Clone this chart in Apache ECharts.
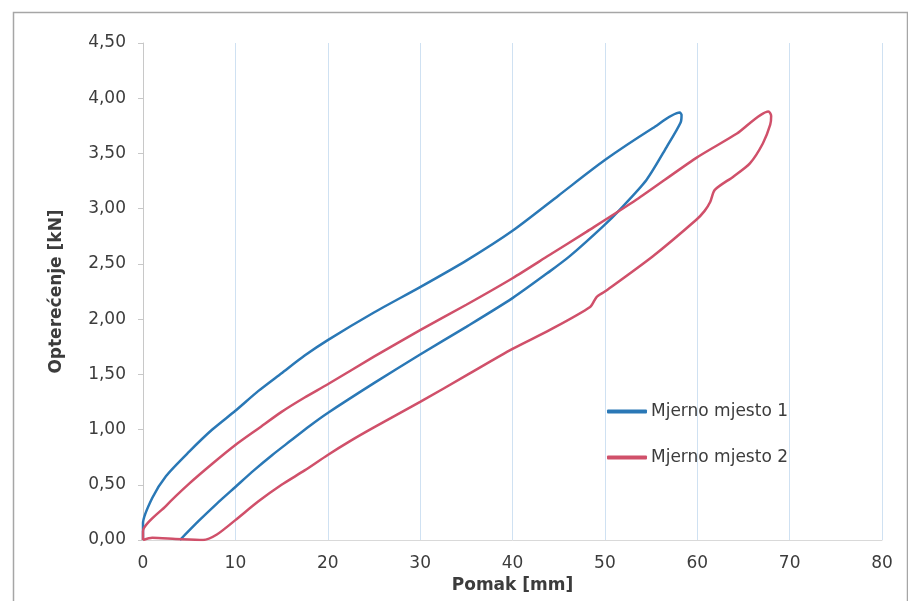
<!DOCTYPE html>
<html>
<head>
<meta charset="utf-8">
<script src="https://cdn.jsdelivr.net/npm/echarts@6/dist/echarts.min.js"></script>
<style>
html,body{margin:0;padding:0;background:#fff;}
#c{width:908px;height:601px;}
</style>
</head>
<body>
<div id="c"></div>
<script>
// Series names
var seriesNames = ['Mjerno mjesto 1', 'Mjerno mjesto 2'];
// Axis titles
var xTitle = 'Pomak [mm]';
var yTitle = 'Opterećenje [kN]';
// Hysteresis loop, measuring point 1: [displacement mm, load kN]
var loop1 = [
  [0,0],[0,0.15],[1,0.38],[2.5,0.58],[5,0.80],[7.5,1.00],[10,1.17],[12.5,1.35],[15,1.51],
  [17.5,1.67],[20,1.81],[25,2.06],[30,2.29],[35,2.53],[40,2.80],[45,3.12],[50,3.44],[55.2,3.73],[58.1,3.87],
  [58.3,3.85],[58.2,3.78],[56.7,3.56],[54.5,3.26],[51.6,2.99],[49.8,2.84],[46.2,2.57],[44,2.43],
  [40,2.19],[35,1.93],[30,1.68],[25,1.42],[20,1.15],[18,1.03],[16,0.90],[14,0.77],[12,0.63],
  [10,0.48],[8,0.33],[6,0.17],[4,0]
];
// Hysteresis loop, measuring point 2
var loop2 = [
  [0,0],[0,0.08],[2.5,0.31],[5,0.51],[7.5,0.69],[10,0.86],[12.5,1.01],[15,1.16],[17.5,1.29],
  [20,1.41],[25,1.66],[30,1.90],[35,2.13],[40,2.37],[44,2.58],[48,2.79],[53.4,3.08],[59.9,3.46],
  [64.3,3.68],[67.7,3.88],
  [68.0,3.84],[67.9,3.76],[67.1,3.59],[65.7,3.41],[63.9,3.29],[61.9,3.17],[61.4,3.06],[60.8,2.98],
  [59.9,2.90],[55.2,2.57],[50,2.25],[49.1,2.20],[48.4,2.11],[44,1.90],[40,1.73],[35,1.49],[30,1.25],
  [25,1.02],[22.5,0.90],[20,0.77],[17.5,0.63],[15,0.50],[12.5,0.35],[10,0.18],[8,0.05],[6.5,0],
  [3.5,0.01],[1,0.02],[0,0]
];
var colors = ['#2a78b6', '#d0506a'];

var chart = echarts.init(document.getElementById('c'), null, {renderer:'canvas'});
var font = '"DejaVu Sans", "Liberation Sans", Arial, sans-serif';
chart.setOption({
  animation: false,
  textStyle: {fontFamily: font},
  graphic: [{
    type: 'rect', left: 11, top: 10, silent: true,
    shape: {width: 894, height: 600},
    style: {fill: 'none', stroke: '#a6a6a6', lineWidth: 1.5}
  }],
  grid: {left: 143, right: 26, top: 43, bottom: 61, containLabel: false},
  legend: {
    orient: 'vertical', left: 602, top: 398,
    itemWidth: 40, itemHeight: 4, itemGap: 29,
    icon: 'roundRect',
    textStyle: {fontSize: 17, color: '#3c3c3c', fontFamily: font, padding: [0,0,0,-1]},
    data: seriesNames
  },
  xAxis: {
    type: 'value', min: 0, max: 80, interval: 10,
    name: xTitle, nameLocation: 'middle', nameGap: 36,
    nameTextStyle: {fontSize: 17, fontWeight: 'bold', color: '#3c3c3c', fontFamily: font},
    axisLine: {show: true, lineStyle: {color: '#d9d9d9', width: 1}},
    axisTick: {show: false},
    axisLabel: {fontSize: 17, color: '#3c3c3c', margin: 15, fontFamily: font},
    splitLine: {show: true, lineStyle: {color: '#cfe1f2', width: 1}}
  },
  yAxis: {
    type: 'value', min: 0, max: 4.5, interval: 0.5,
    name: yTitle, nameLocation: 'middle', nameGap: 78,
    nameTextStyle: {fontSize: 17, fontWeight: 'bold', color: '#3c3c3c', fontFamily: font},
    axisLine: {show: true, lineStyle: {color: '#c8c8c8', width: 1}},
    axisTick: {show: true, inside: false, length: 5, lineStyle: {color: '#c8c8c8'}},
    axisLabel: {fontSize: 17, color: '#3c3c3c', margin: 17, fontFamily: font,
      formatter: function(v){ return v.toFixed(2).replace('.', ','); }},
    splitLine: {show: false}
  },
  series: [
    {name: seriesNames[0], type: 'line', data: loop1, showSymbol: false, smooth: 0.25,
     lineStyle: {color: colors[0], width: 2.5}, itemStyle: {color: colors[0]}},
    {name: seriesNames[1], type: 'line', data: loop2, showSymbol: false, smooth: 0.25,
     lineStyle: {color: colors[1], width: 2.5}, itemStyle: {color: colors[1]}}
  ]
});
</script>
</body>
</html>
